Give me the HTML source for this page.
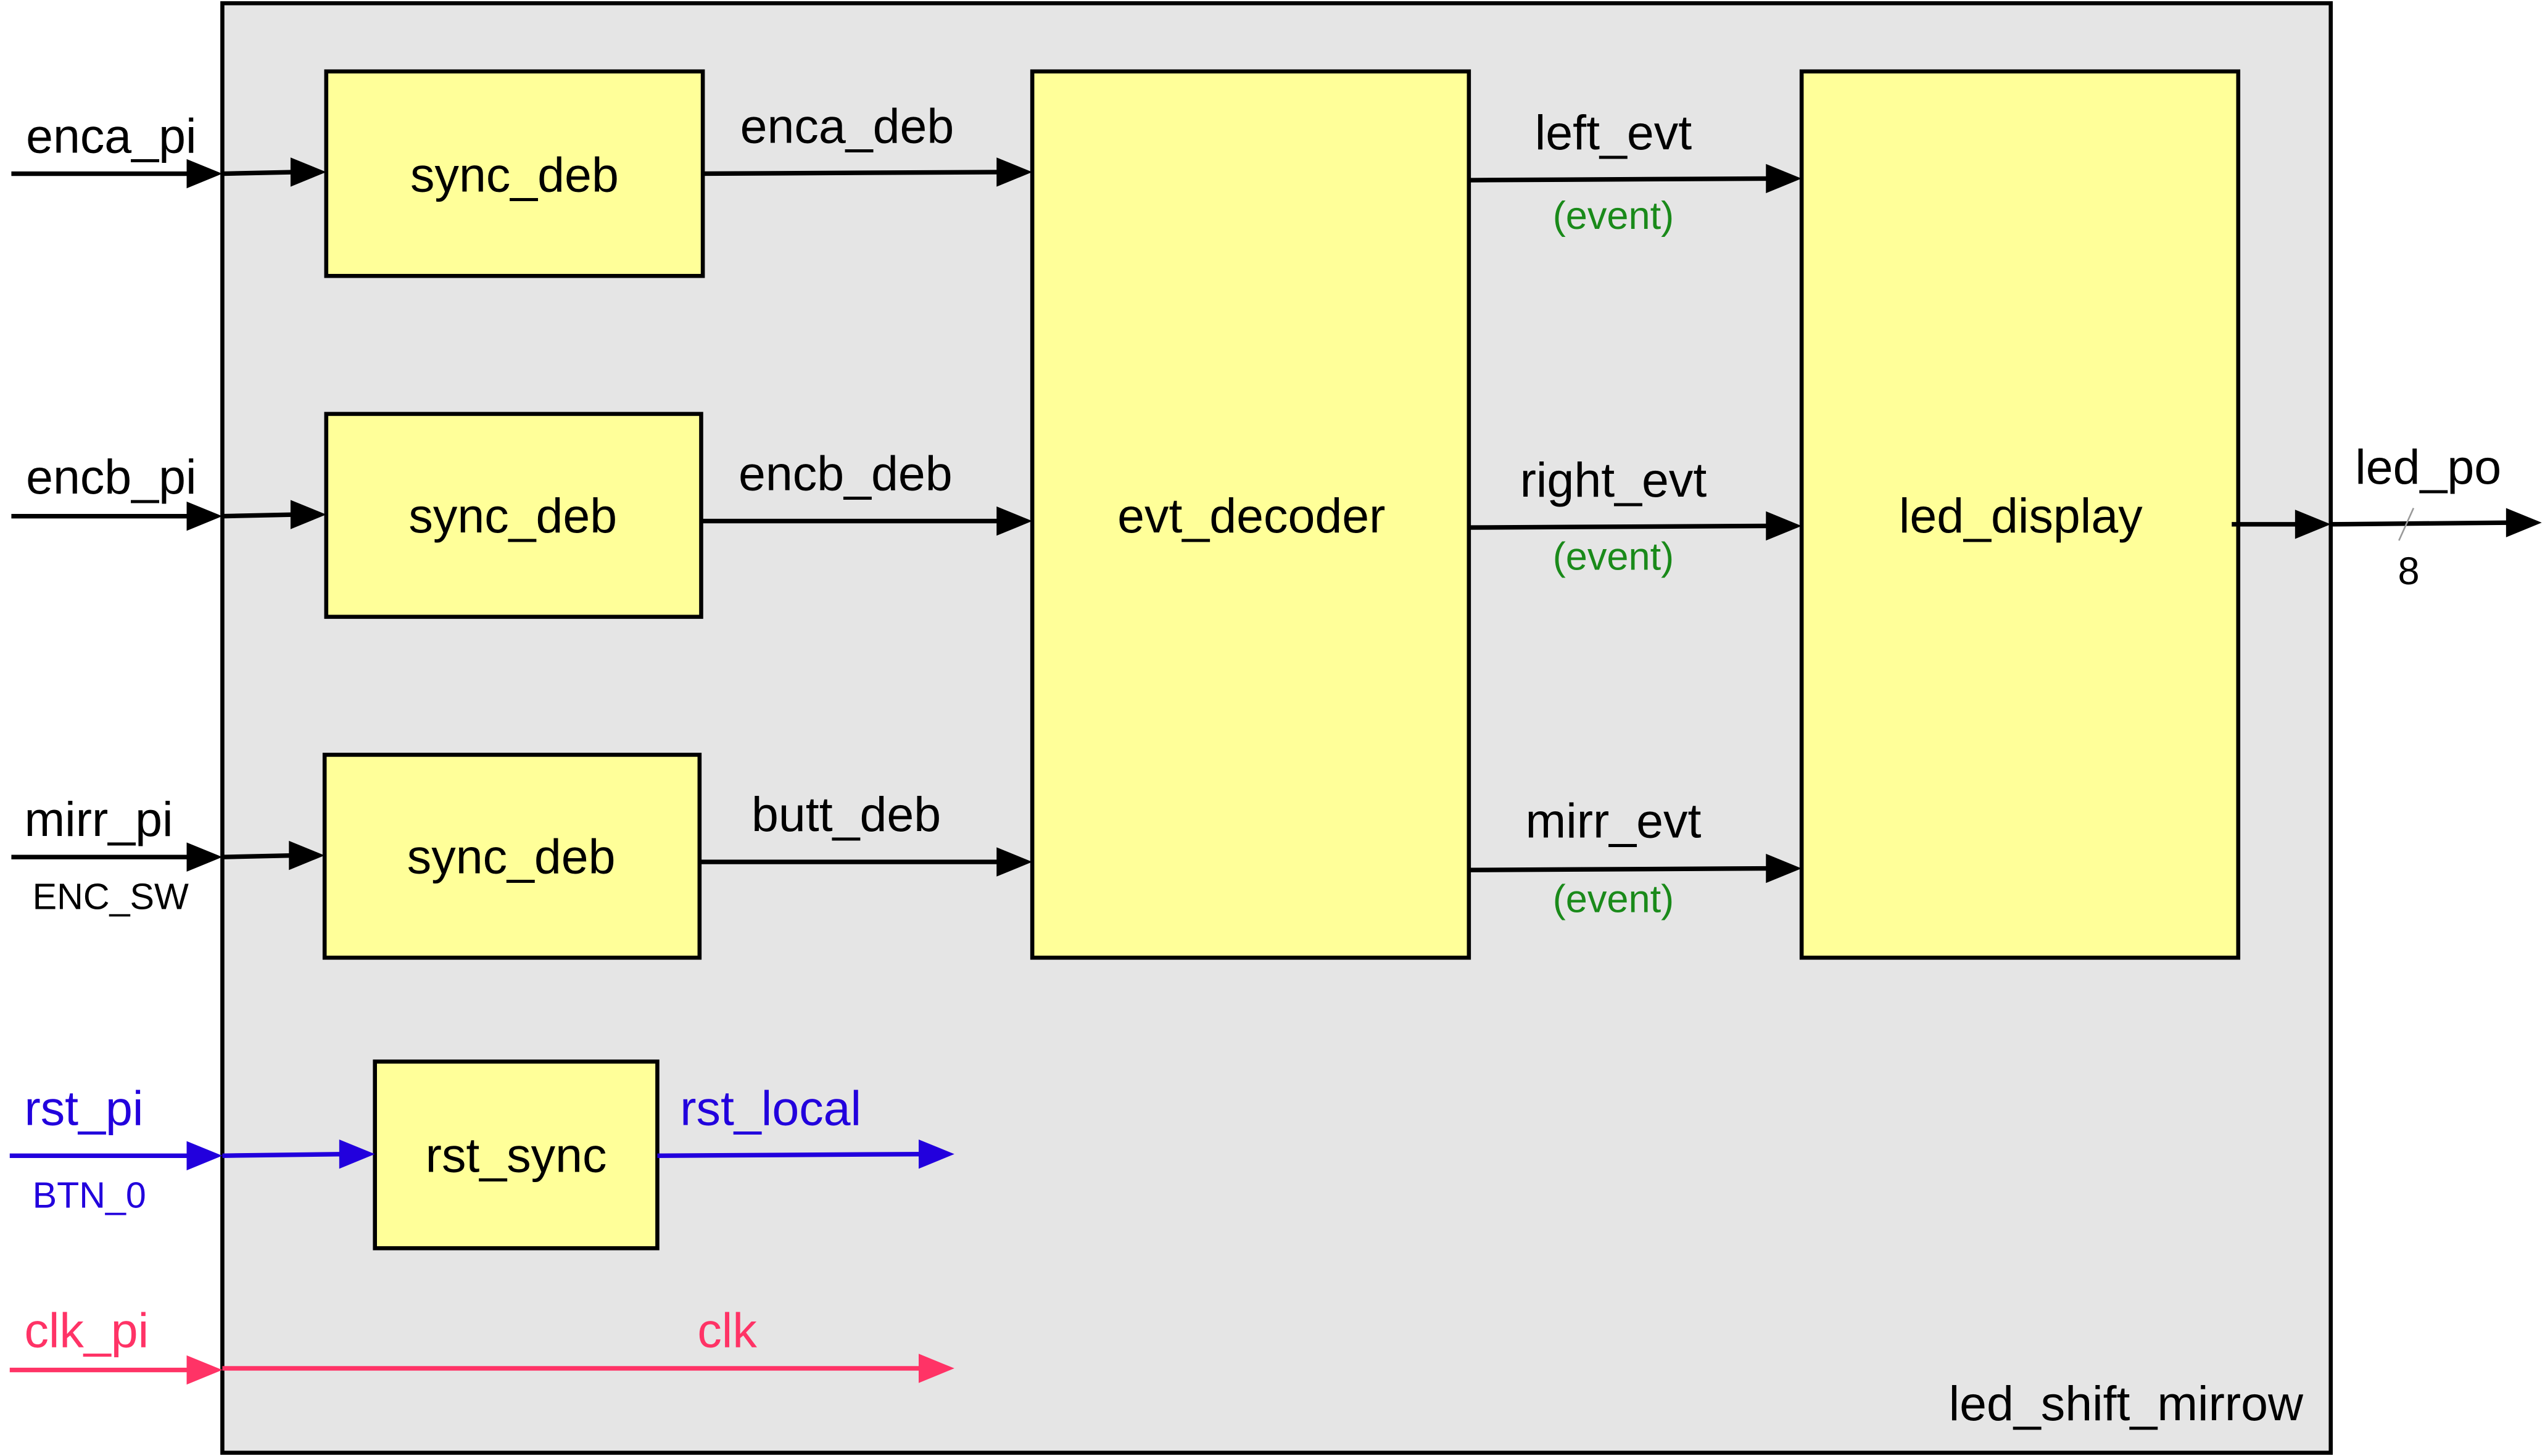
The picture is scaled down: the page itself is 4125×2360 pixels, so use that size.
<!DOCTYPE html>
<html><head><meta charset="utf-8"><style>
html,body{margin:0;padding:0;background:#fff;}
svg{display:block;}
text{font-family:"Liberation Sans",Arial,sans-serif;}
</style></head><body>
<svg width="4125" height="2360" viewBox="0 0 1568 897" preserveAspectRatio="none" xmlns="http://www.w3.org/2000/svg">
<rect x="137" y="2" width="1299" height="893" fill="#e5e5e5" stroke="#000" stroke-width="2.5"/>
<g fill="#ffff99" stroke="#000" stroke-width="2.5">
<rect x="201" y="44" width="232" height="126"/>
<rect x="201" y="255" width="231" height="125"/>
<rect x="200" y="465" width="231" height="125"/>
<rect x="231" y="654" width="174" height="115"/>
<rect x="636" y="44" width="269" height="546"/>
<rect x="1110" y="44" width="269" height="546"/>
</g>
<g font-size="30" text-anchor="middle" fill="#000">
<text x="317" y="118">sync_deb</text>
<text x="316" y="328">sync_deb</text>
<text x="315" y="538">sync_deb</text>
<text x="318" y="722">rst_sync</text>
<text x="771" y="328">evt_decoder</text>
<text x="1245" y="328">led_display</text>
</g>
<g stroke-width="2.8" fill="none">
<g stroke="#000">
<line x1="7" y1="107" x2="118" y2="107"/><line x1="137" y1="107" x2="182" y2="106"/>
<line x1="433" y1="107" x2="617" y2="106"/>
<line x1="7" y1="318" x2="118" y2="318"/><line x1="137" y1="318" x2="182" y2="317"/>
<line x1="432" y1="321" x2="617" y2="321"/>
<line x1="7" y1="528" x2="118" y2="528"/><line x1="137" y1="528" x2="181" y2="527"/>
<line x1="431" y1="531" x2="617" y2="531"/>
<line x1="905" y1="111" x2="1090" y2="110"/>
<line x1="905" y1="325" x2="1090" y2="324"/>
<line x1="905" y1="536" x2="1090" y2="535"/>
<line x1="1375" y1="323" x2="1417" y2="323"/><line x1="1436" y1="323" x2="1547" y2="322"/>
</g>
<g stroke="#2200dd"><line x1="6" y1="712" x2="118" y2="712"/><line x1="137" y1="712" x2="212" y2="711"/><line x1="405" y1="712" x2="569" y2="711"/></g>
<g stroke="#ff3366"><line x1="6" y1="844" x2="118" y2="844"/><line x1="137" y1="843" x2="569" y2="843"/></g>
</g>
<g fill="#000">
<path d="M115,98 L137,107 L115,116z"/><path d="M179,97 L201,106 L179,115z"/><path d="M614,97 L636,106 L614,115z"/>
<path d="M115,309 L137,318 L115,327z"/><path d="M179,308 L201,317 L179,326z"/><path d="M614,312 L636,321 L614,330z"/>
<path d="M115,519 L137,528 L115,537z"/><path d="M178,518 L200,527 L178,536z"/><path d="M614,522 L636,531 L614,540z"/>
<path d="M1088,101 L1110,110 L1088,119z"/><path d="M1088,315 L1110,324 L1088,333z"/><path d="M1088,526 L1110,535 L1088,544z"/>
<path d="M1414,314 L1436,323 L1414,332z"/><path d="M1544,313 L1566,322 L1544,331z"/>
</g>
<g fill="#2200dd"><path d="M115,703 L137,712 L115,721z"/><path d="M209,702 L231,711 L209,720z"/><path d="M566,702 L588,711 L566,720z"/></g>
<g fill="#ff3366"><path d="M115,835 L137,844 L115,853z"/><path d="M566,834 L588,843 L566,852z"/></g>
<line x1="1487" y1="313" x2="1478" y2="333" stroke="#999" stroke-width="1"/>
<g font-size="30" fill="#000">
<text x="16" y="94">enca_pi</text>
<text x="16" y="304">encb_pi</text>
<text x="15" y="515">mirr_pi</text>
<text x="456" y="88">enca_deb</text>
<text x="455" y="302">encb_deb</text>
<text x="463" y="512">butt_deb</text>
<text x="994" y="92" text-anchor="middle">left_evt</text>
<text x="994" y="306" text-anchor="middle">right_evt</text>
<text x="994" y="516" text-anchor="middle">mirr_evt</text>
<text x="1451" y="298">led_po</text>
<text x="1419" y="875" text-anchor="end">led_shift_mirrow</text>
</g>
<text x="1484" y="360" font-size="24" text-anchor="middle">8</text>
<text x="20" y="560" font-size="22.5">ENC_SW</text>
<g font-size="24" fill="#1a8a1a" text-anchor="middle">
<text x="994" y="141">(event)</text>
<text x="994" y="351">(event)</text>
<text x="994" y="562">(event)</text>
</g>
<g fill="#2200dd"><text x="15" y="693" font-size="30">rst_pi</text><text x="419" y="693" font-size="30">rst_local</text><text x="20" y="744" font-size="22.5">BTN_0</text></g>
<g fill="#ff3366" font-size="30"><text x="15" y="830">clk_pi</text><text x="448" y="830" text-anchor="middle">clk</text></g>
</svg>
</body></html>
